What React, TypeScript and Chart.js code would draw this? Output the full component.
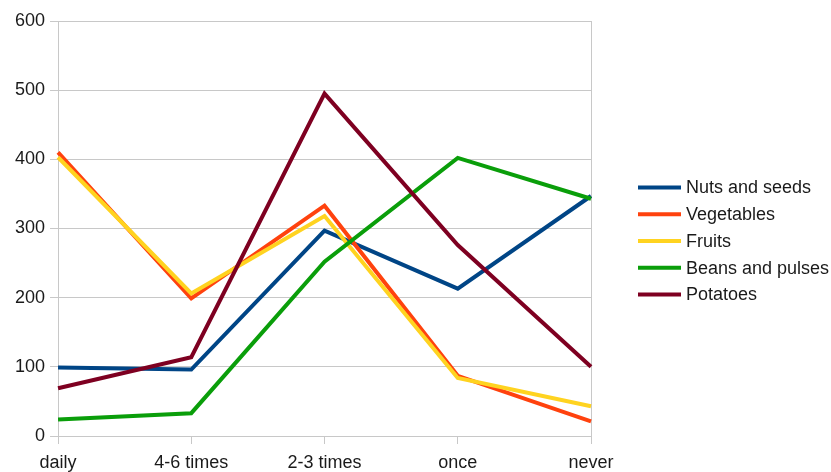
import React, { useEffect, useRef } from "react";
import { Chart, registerables } from "chart.js";

Chart.register(...registerables);

const categories = ["daily", "4-6 times", "2-3 times", "once", "never"];

const nutsAndSeeds = [99, 96, 297, 213, 347];
const vegetables = [410, 199, 333, 87, 21];
const fruits = [403, 206, 318, 84, 43];
const beansAndPulses = [24, 33, 252, 402, 343];
const potatoes = [69, 114, 495, 276, 100];

const yTicks = [0, 100, 200, 300, 400, 500, 600];

const seriesNames = ["Nuts and seeds", "Vegetables", "Fruits", "Beans and pulses", "Potatoes"];
const seriesColors = ["#004586", "#ff420e", "#ffd320", "#0a9e0a", "#7e0021"];

const GRID = "#c8c8c8";
const TEXT = "#1a1a1a";
const FONT = "'Liberation Sans', Arial, sans-serif";

// Legend drawn to the right of the plot: a short line sample and the series name per row.
const sideLegend = {
  id: "sideLegend",
  afterDraw(chart: any) {
    const { ctx, chartArea } = chart;
    const x0 = chartArea.right + 47;
    const lineLen = 43;
    const rowH = 26.75;
    const items = chart.data.datasets;
    const firstY = (chart.height - rowH * (items.length - 1)) / 2 + 5;
    ctx.save();
    ctx.font = `18px ${FONT}`;
    ctx.textBaseline = "middle";
    ctx.textAlign = "left";
    items.forEach((ds: any, i: number) => {
      const y = firstY + i * rowH;
      ctx.strokeStyle = ds.borderColor;
      ctx.lineWidth = 4;
      ctx.beginPath();
      ctx.moveTo(x0, y);
      ctx.lineTo(x0 + lineLen, y);
      ctx.stroke();
      ctx.fillStyle = TEXT;
      ctx.fillText(ds.label, x0 + lineLen + 5, y + 1);
    });
    ctx.restore();
  },
};

export default function App() {
  const canvasRef = useRef<HTMLCanvasElement | null>(null);

  useEffect(() => {
    document.body.style.margin = "0";
    const canvas = canvasRef.current;
    if (!canvas) return;
    const values = [nutsAndSeeds, vegetables, fruits, beansAndPulses, potatoes];
    const chart = new Chart(canvas, {
      type: "line",
      data: {
        labels: categories,
        datasets: values.map((v, i) => ({
          label: seriesNames[i],
          data: v,
          borderColor: seriesColors[i],
          backgroundColor: seriesColors[i],
          borderWidth: 4,
          pointRadius: 0,
          pointHoverRadius: 0,
          tension: 0,
          fill: false,
          // later series are painted over earlier ones
          order: values.length - i,
        })),
      },
      plugins: [sideLegend],
      options: {
        responsive: false,
        animation: false,
        layout: { padding: { left: 10, top: 21, right: 240, bottom: 0 } },
        plugins: {
          tooltip: { enabled: false },
          legend: { display: false },
        },
        scales: {
          x: {
            offset: false,
            afterFit: (axis: any) => {
              axis.height = 36;
            },
            grid: {
              color: (ctx: any) =>
                ctx.index === 0 || ctx.index === categories.length - 1 ? GRID : "rgba(0,0,0,0)",
              tickColor: GRID,
              tickLength: 8,
              lineWidth: 1,
            },
            border: { display: true, color: GRID },
            ticks: {
              color: TEXT,
              font: { family: FONT, size: 18 },
              padding: 8,
              maxRotation: 0,
              autoSkip: false,
            },
          },
          y: {
            min: 0,
            max: 600,
            afterBuildTicks: (axis: any) => {
              axis.ticks = yTicks.map((v) => ({ value: v }));
            },
            grid: { color: GRID, tickColor: GRID, tickLength: 8 },
            border: { display: true, color: GRID },
            ticks: {
              color: TEXT,
              font: { family: FONT, size: 18 },
              padding: 5,
            },
          },
        },
      },
    });
    return () => chart.destroy();
  }, []);

  return (
    <div style={{ width: 831, height: 472, background: "#fff" }}>
      <canvas ref={canvasRef} width={831} height={472} />
    </div>
  );
}
